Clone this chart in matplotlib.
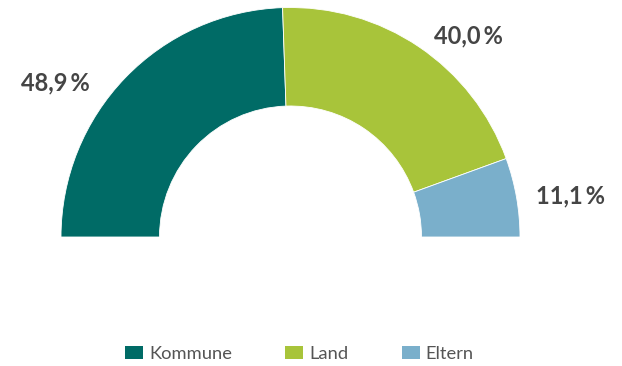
import matplotlib
matplotlib.use("Agg")
import matplotlib.pyplot as plt

categories = ["Kommune", "Land", "Eltern"]
shares = [48.9, 40.0, 11.1]
labels = ["48,9\u2009%", "40,0\u2009%", "11,1\u2009%"]
colors = ["#006b66", "#a8c43a", "#7aafcb"]

plt.rcParams["font.family"] = ["Lato", "DejaVu Sans"]

W, H = 622, 366
fig = plt.figure(figsize=(W / 100, H / 100), dpi=100)
ax = fig.add_axes([0, 0, 1, 1])

cx, cy = 290.5, H - 237
r_out, r_in = 229.5, 131

# the lower half is an invisible slice of the same total, so the ring spans 180°
values = shares + [sum(shares)]
wedges, _ = ax.pie(
    values,
    colors=colors + ["none"],
    startangle=180,
    counterclock=False,
    radius=r_out,
    center=(cx, cy),
    wedgeprops=dict(width=r_out - r_in, edgecolor="white", linewidth=0.6),
)
wedges[-1].set_edgecolor("none")
ax.set_xlim(0, W)
ax.set_ylim(0, H)
ax.set_aspect("equal")
ax.axis("off")

label_pos = [(55, H - 83), (468, H - 36), (571, H - 196)]
for (x, y), txt in zip(label_pos, labels):
    ax.text(x, y, txt, ha="center", va="center", fontsize=17,
            fontweight="bold", color="#454545")

leg = fig.legend(
    wedges[:3], categories,
    loc="center", bbox_to_anchor=(299.5 / W, 12 / H),
    ncol=3, frameon=False, fontsize=13.2,
    handlelength=0.98, handleheight=0.66, handletextpad=0.33,
    columnspacing=2.9,
)
for t in leg.get_texts():
    t.set_color("#555555")
for h in leg.legend_handles:
    h.set_edgecolor("none")

fig.savefig("out.png", dpi=100)
